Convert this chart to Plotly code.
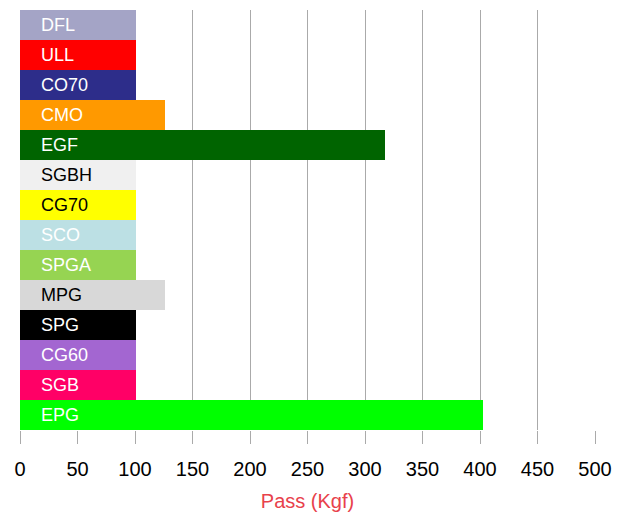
import plotly.graph_objects as go

names = ["DFL", "ULL", "CO70", "CMO", "EGF", "SGBH", "CG70",
         "SCO", "SPGA", "MPG", "SPG", "CG60", "SGB", "EPG"]
values = [101, 101, 101, 126, 317, 101, 101, 101, 101, 126, 101, 101, 101, 403]
colors = ["#a4a4c6", "#ff0000", "#2d2d8a", "#ff9900", "#006400", "#f0f0f0", "#ffff00",
          "#bce0e4", "#96d452", "#d8d8d8", "#000000", "#a366d1", "#ff0066", "#00ff00"]
label_colors = ["white", "white", "white", "white", "white", "black", "black",
                "white", "white", "black", "white", "white", "white", "white"]

fig = go.Figure()

fig.add_trace(go.Bar(
    x=values, y=names, orientation="h",
    marker=dict(color=colors, line=dict(width=0)),
    hoverinfo="x+y", showlegend=False
))

# Category labels drawn inside the bars, left-aligned
for n, c in zip(names, label_colors):
    fig.add_annotation(
        x=0, y=n, text=n, showarrow=False,
        xanchor="left", xshift=19,
        font=dict(family="Liberation Sans, Arial", size=18, color=c)
    )

# page body has an 8px margin, so the figure is sized/offset to compensate
fig.update_layout(
    width=621, height=507,
    margin=dict(l=12, r=34, t=2, b=85),
    plot_bgcolor="white", paper_bgcolor="white",
    bargap=0,
    font=dict(family="Liberation Sans, Arial", color="black"),
    xaxis=dict(
        range=[0, 500], dtick=50, tick0=0,
        showgrid=True, gridcolor="#aaaaaa", gridwidth=1,
        zeroline=False, showline=False, automargin=False,
        ticks="outside", ticklen=13, tickcolor="#aaaaaa", tickwidth=1,
        ticklabelstandoff=8,
        tickfont=dict(size=20, color="black"),
        title=dict(text="Pass (Kgf)", font=dict(size=20, color="#e8414b"), standoff=14),
    ),
    yaxis=dict(
        autorange="reversed", showticklabels=False, showgrid=False,
        zeroline=False, showline=False, ticks="", automargin=False,
    ),
)

fig.write_html("out.html")
